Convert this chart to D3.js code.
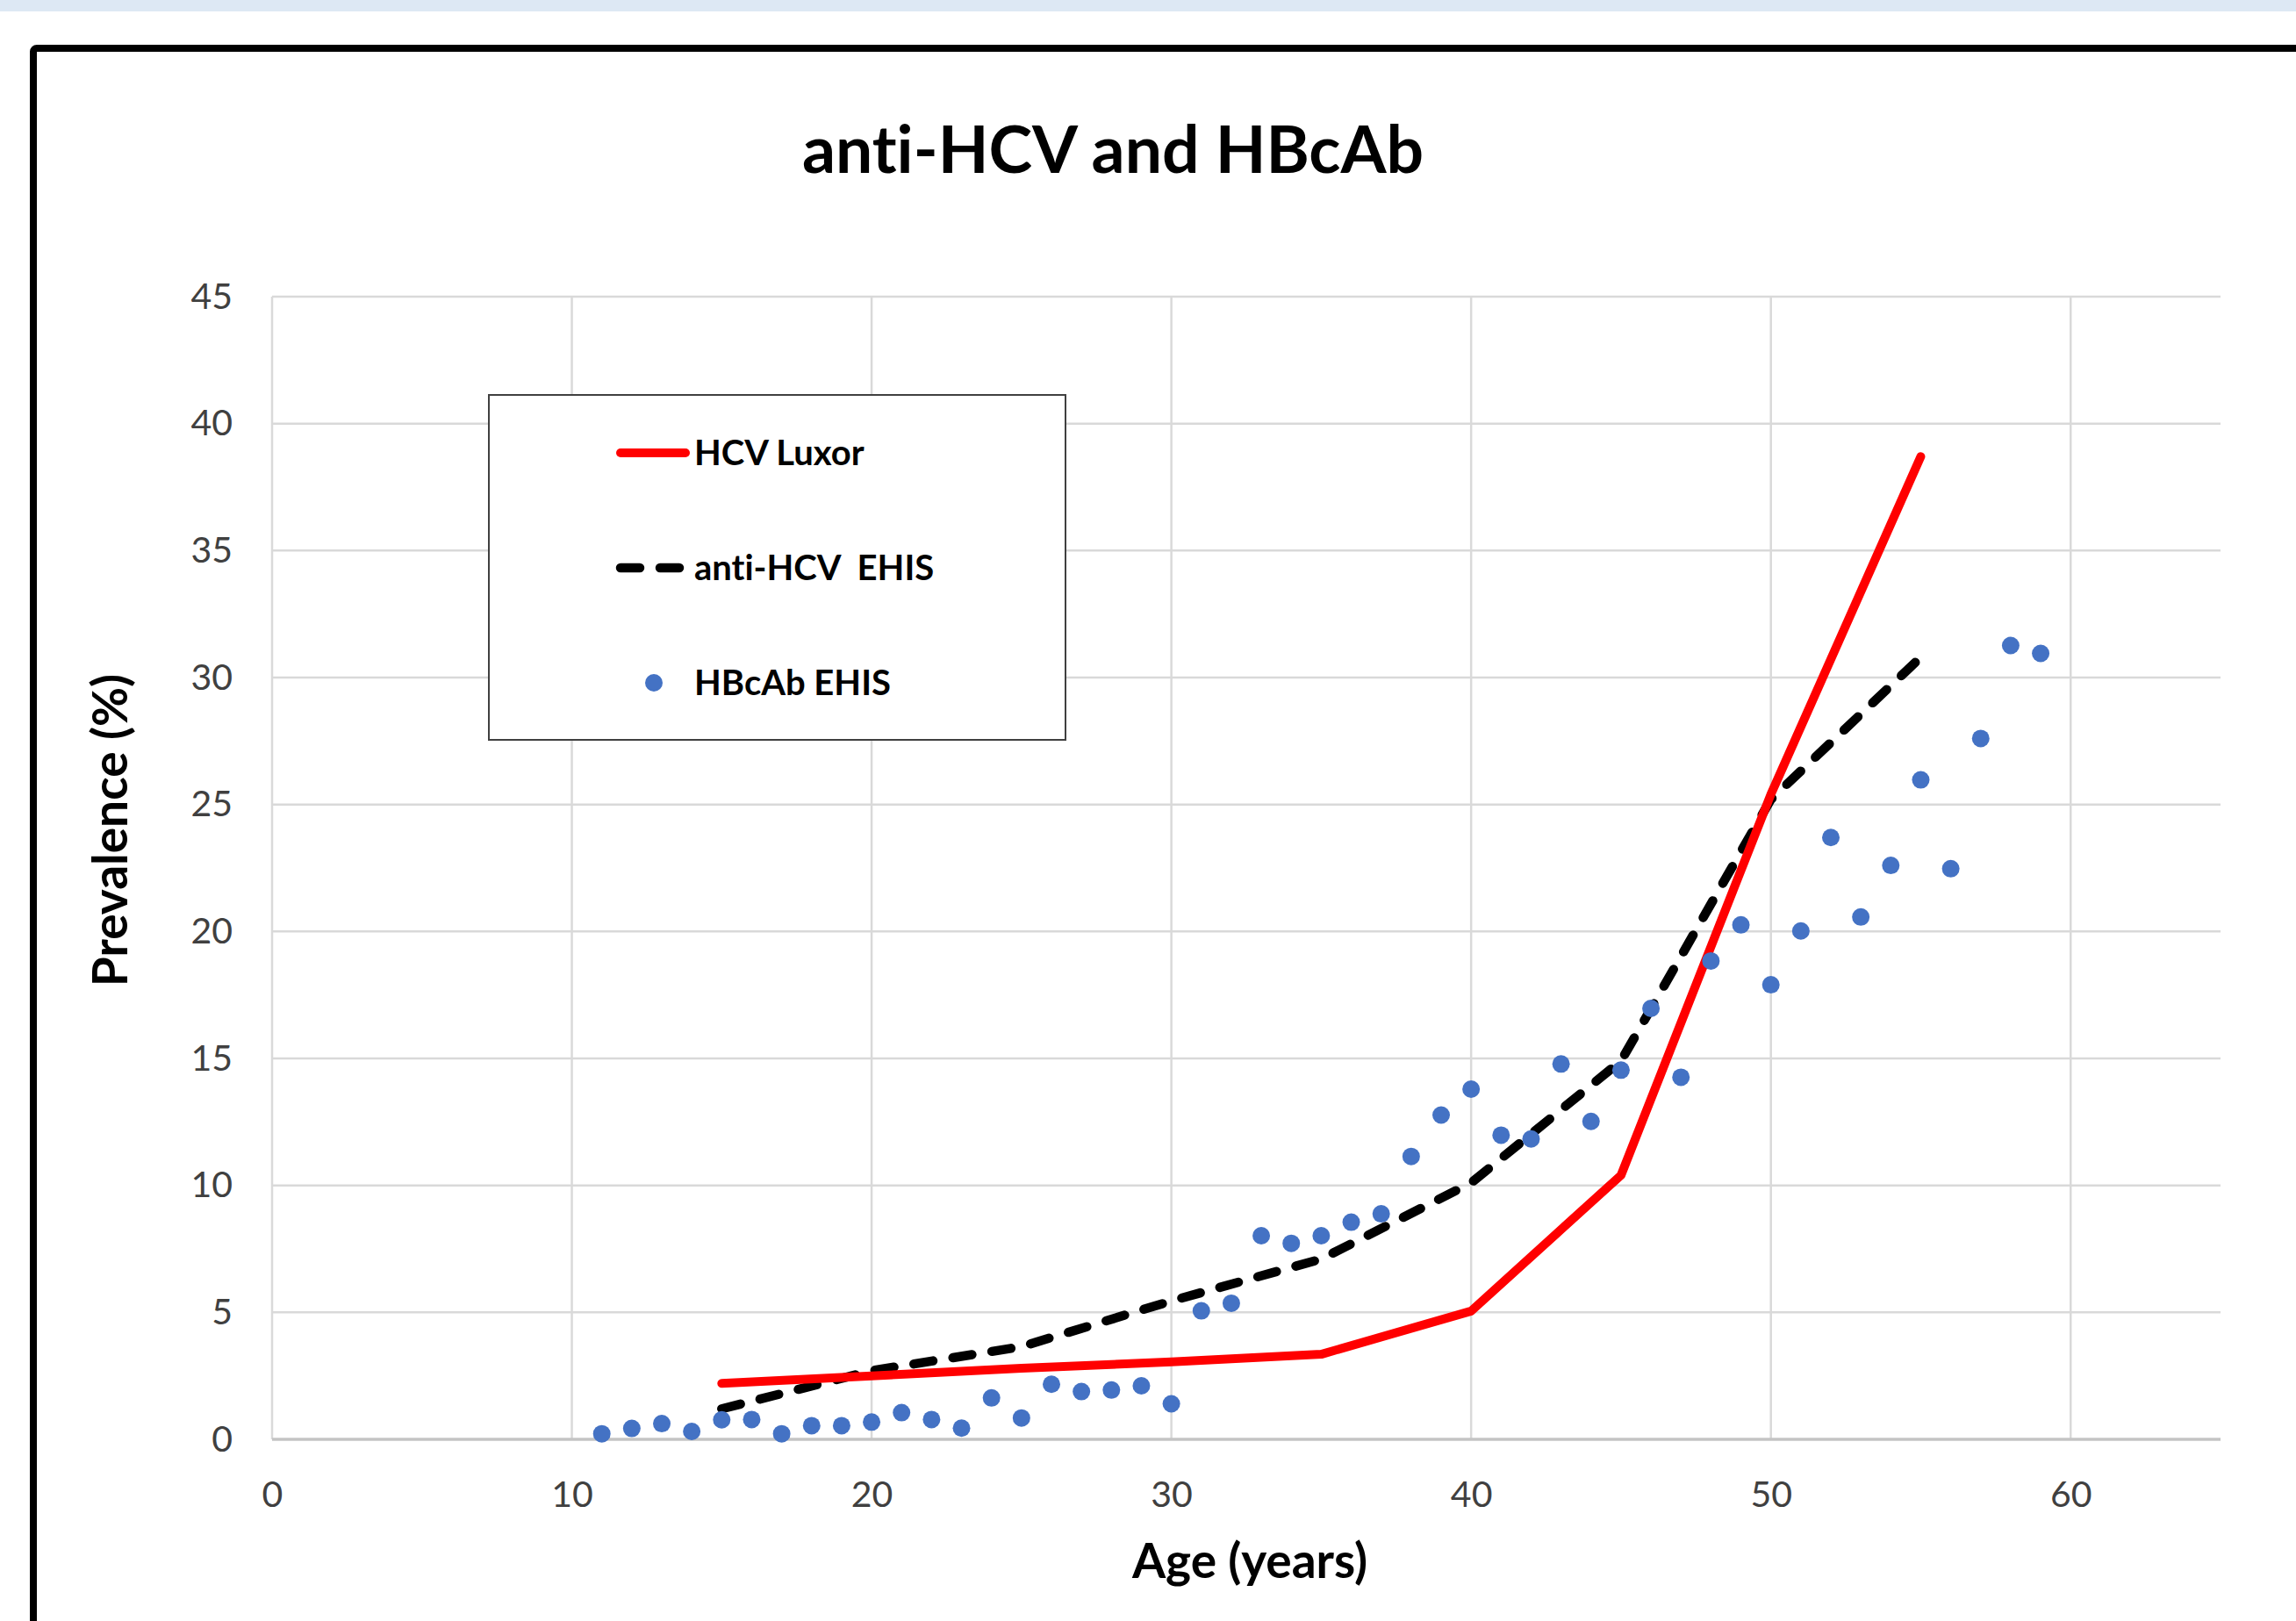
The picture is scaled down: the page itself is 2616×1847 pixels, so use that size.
<!DOCTYPE html>
<html>
<head>
<meta charset="utf-8">
<script src="https://cdn.jsdelivr.net/npm/d3@7"></script>
<style>
  body { margin: 0; background: #fff; }
  svg { display: block; font-family: Lato, "Open Sans", sans-serif; font-variant-ligatures: none; }
</style>
</head>
<body>
<script>
// ages and prevalence (%)
var lineAges = [15, 20, 25, 30, 35, 40, 45, 50, 55];
var hcvLuxor = [2.2, 2.5, 2.8, 3.05, 3.35, 5.05, 10.4, 25.4, 38.7];
var antiHcvEhis = [1.2, 2.7, 3.65, 5.45, 7.1, 10.1, 14.9, 25.2, 30.8];

var dotAges = [11, 12, 13, 14, 15, 16, 17, 18, 19, 20, 21, 22, 23, 24, 25,
               26, 27, 28, 29, 30, 31, 32, 33, 34, 35, 36, 37, 38, 39, 40,
               41, 42, 43, 44, 45, 46, 47, 48, 49, 50, 51, 52, 53, 54, 55,
               56, 57, 58, 59];
var hbcAbEhis = [0.22, 0.43, 0.62, 0.31, 0.77, 0.78, 0.22, 0.54, 0.54, 0.68,
                 1.05, 0.78, 0.44, 1.63, 0.84, 2.17, 1.88, 1.94, 2.11, 1.40,
                 5.06, 5.36, 8.02, 7.72, 8.02, 8.55, 8.88, 11.14, 12.77, 13.79,
                 11.98, 11.83, 14.78, 12.52, 14.54, 16.97, 14.26, 18.84, 20.26, 17.9,
                 20.02, 23.7, 20.57, 22.6, 25.97, 22.47, 27.6, 31.26, 30.95];

var xTicks = [0, 10, 20, 30, 40, 50, 60];
var yTicks = [0, 5, 10, 15, 20, 25, 30, 35, 40, 45];

var legendNames = ["HCV Luxor", "anti-HCV  EHIS", "HBcAb EHIS"];

////////////////////////////////////////////////////////////////////////////////
var W = 2616, H = 1847;
var plot = {left: 310, right: 2530, top: 338, bottom: 1640};

var svg = d3.select("body").append("svg")
    .attr("width", W)
    .attr("height", H);

// light band at the very top and the chart frame
svg.append("rect")
    .attr("x", 0).attr("y", 0)
    .attr("width", W).attr("height", 13)
    .attr("fill", "#dde8f4");

svg.append("rect")
    .attr("x", 38).attr("y", 55)
    .attr("width", W).attr("height", H)
    .attr("rx", 4)
    .attr("fill", "#fff")
    .attr("stroke", "#000")
    .attr("stroke-width", 8);

var x = d3.scaleLinear().domain([0, 65]).range([plot.left, plot.right]);
var y = d3.scaleLinear().domain([0, 45]).range([plot.bottom, plot.top]);

// gridlines
svg.append("g").selectAll("line").data(yTicks.slice(1))
  .enter().append("line")
    .attr("x1", plot.left).attr("x2", plot.right)
    .attr("y1", y).attr("y2", y)
    .attr("stroke", "#d9d9d9")
    .attr("stroke-width", 2.5);

svg.append("g").selectAll("line").data(xTicks)
  .enter().append("line")
    .attr("x1", x).attr("x2", x)
    .attr("y1", plot.top).attr("y2", plot.bottom)
    .attr("stroke", "#d9d9d9")
    .attr("stroke-width", 2.5);

svg.append("line")
    .attr("x1", plot.left).attr("x2", plot.right)
    .attr("y1", y(0)).attr("y2", y(0))
    .attr("stroke", "#c4c4c4")
    .attr("stroke-width", 3.5);

// axes (labels only)
var xAxis = svg.append("g")
    .attr("transform", "translate(0," + plot.bottom + ")")
    .call(d3.axisBottom(x).tickValues(xTicks).tickSize(0).tickPadding(48));

var yAxis = svg.append("g")
    .attr("transform", "translate(" + plot.left + ",0)")
    .call(d3.axisLeft(y).tickValues(yTicks).tickSize(0).tickPadding(45));

[xAxis, yAxis].forEach(function(a) {
    a.select(".domain").remove();
    a.selectAll("text")
        .attr("font-family", "Lato, sans-serif")
        .attr("font-size", 41)
        .attr("fill", "#404040");
});

// series
var line = d3.line()
    .x(function(d) { return x(d[0]); })
    .y(function(d) { return y(d[1]); });

svg.append("path")
    .datum(d3.zip(lineAges, antiHcvEhis))
    .attr("d", line)
    .attr("fill", "none")
    .attr("stroke", "#000")
    .attr("stroke-width", 10.5)
    .attr("stroke-linecap", "round")
    .attr("stroke-linejoin", "round")
    .attr("stroke-dasharray", "22 23");

svg.append("path")
    .datum(d3.zip(lineAges, hcvLuxor))
    .attr("d", line)
    .attr("fill", "none")
    .attr("stroke", "#ff0000")
    .attr("stroke-width", 10)
    .attr("stroke-linecap", "round")
    .attr("stroke-linejoin", "round");

svg.append("g").selectAll("circle").data(d3.zip(dotAges, hbcAbEhis))
  .enter().append("circle")
    .attr("cx", function(d) { return x(d[0]); })
    .attr("cy", function(d) { return y(d[1]); })
    .attr("r", 10)
    .attr("fill", "#4472c4");

// titles
svg.append("text")
    .attr("x", 1268).attr("y", 197)
    .attr("text-anchor", "middle")
    .attr("font-size", 75)
    .attr("font-weight", "bold")
    .text("anti-HCV and HBcAb");

svg.append("text")
    .attr("x", 1424).attr("y", 1798)
    .attr("text-anchor", "middle")
    .attr("font-size", 55)
    .attr("font-weight", "bold")
    .text("Age (years)");

svg.append("text")
    .attr("transform", "translate(145,946) rotate(-90)")
    .attr("text-anchor", "middle")
    .attr("font-size", 55)
    .attr("font-weight", "bold")
    .text("Prevalence (%)");

// legend
var legend = svg.append("g");
legend.append("rect")
    .attr("x", 557).attr("y", 450)
    .attr("width", 657).attr("height", 393)
    .attr("fill", "#fff")
    .attr("stroke", "#404040")
    .attr("stroke-width", 2);

var rowY = [516, 647, 778];

legend.append("line")
    .attr("x1", 707).attr("x2", 781)
    .attr("y1", rowY[0]).attr("y2", rowY[0])
    .attr("stroke", "#ff0000")
    .attr("stroke-width", 10)
    .attr("stroke-linecap", "round");

legend.append("line")
    .attr("x1", 707).attr("x2", 775)
    .attr("y1", rowY[1]).attr("y2", rowY[1])
    .attr("stroke", "#000")
    .attr("stroke-width", 10.5)
    .attr("stroke-linecap", "round")
    .attr("stroke-dasharray", "22 23");

legend.append("circle")
    .attr("cx", 745).attr("cy", rowY[2])
    .attr("r", 10)
    .attr("fill", "#4472c4");

legend.selectAll(".ltext").data(legendNames)
  .enter().append("text")
    .attr("class", "ltext")
    .attr("x", 791)
    .attr("y", function(d, i) { return rowY[i] + 14; })
    .attr("font-size", 40)
    .attr("font-weight", "bold")
    .attr("xml:space", "preserve")
    .style("white-space", "pre")
    .text(function(d) { return d; });
</script>
</body>
</html>
